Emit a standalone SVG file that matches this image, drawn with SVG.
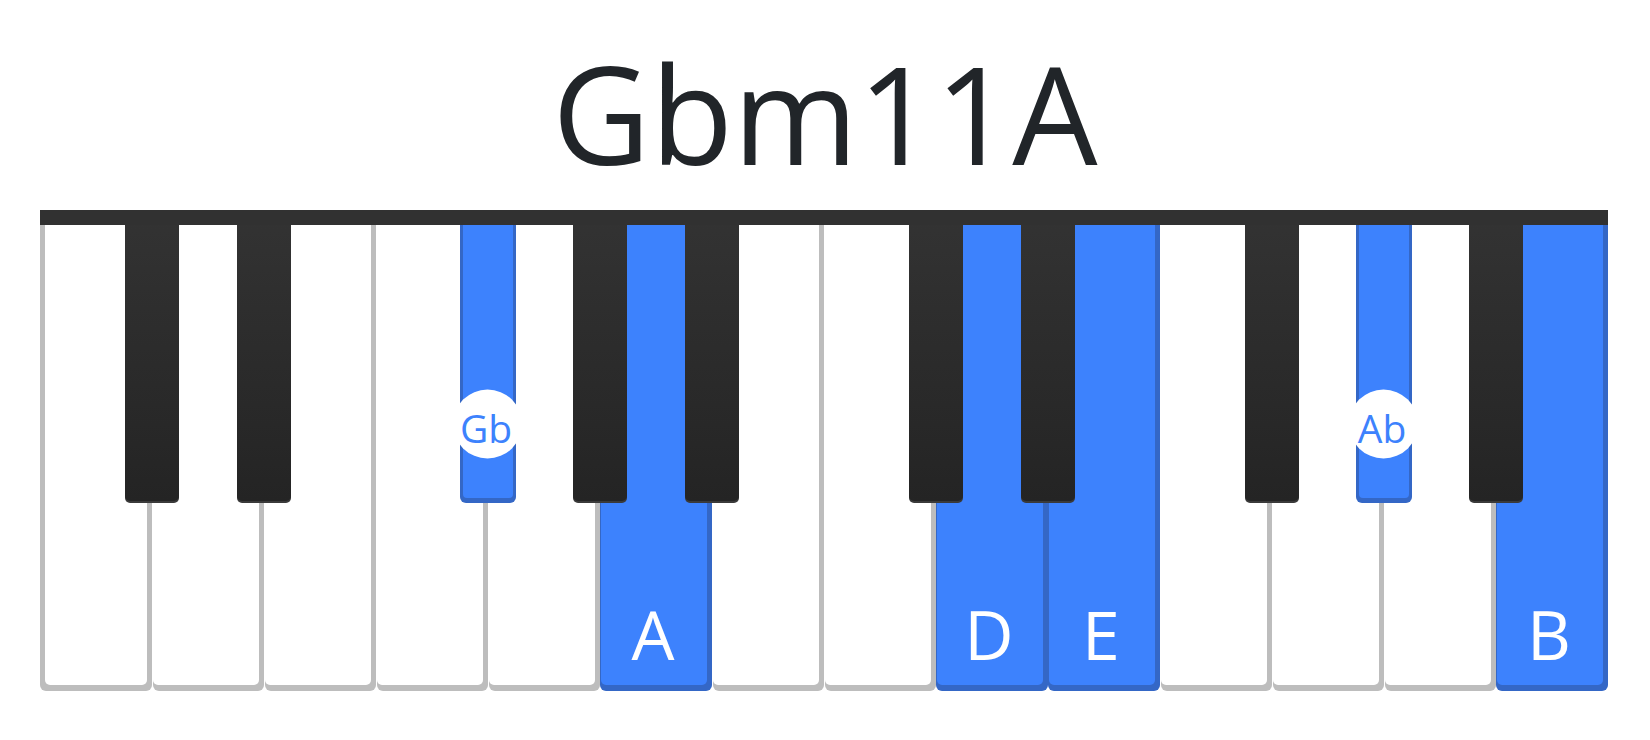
<svg xmlns="http://www.w3.org/2000/svg" width="1650" height="740" viewBox="0 0 1650 740">
<defs>
<linearGradient id="blk" x1="0" y1="0" x2="0" y2="1">
<stop offset="0" stop-color="#333333"/>
<stop offset="1" stop-color="#242424"/>
</linearGradient>
<style>
.wEdge{fill:#bdbdbd}
.wFace{fill:#ffffff}
.bEdge{fill:#3467c6}
.bFace{fill:#3d82fd}
.blk{fill:url(#blk)}
.blkEdge{fill:#3a3a3a}
.title{font-family:"Open Sans","Noto Sans","Liberation Sans",sans-serif;font-size:135px;fill:#212529;text-anchor:middle}
.lbl{font-family:"Open Sans","Noto Sans","Liberation Sans",sans-serif;font-size:68px;fill:#ffffff;text-anchor:middle}
.dot{fill:#ffffff}
.dlbl{font-family:"Open Sans","Noto Sans","Liberation Sans",sans-serif;font-size:39px;fill:#3d82fd;text-anchor:middle}
</style>
</defs>
<rect width="1650" height="740" fill="#ffffff"/>
<g id="title"><text class="title" x="825" y="165">Gbm11A</text></g>

<g id="white-keys">
<g id="key-C1"><rect class="wEdge" x="40" y="212" width="112" height="479" rx="6"/><rect class="wFace" x="45" y="212" width="102" height="473" rx="5"/></g>
<g id="key-D1"><rect class="wEdge" x="153" y="212" width="111" height="479" rx="6"/><rect class="wFace" x="153" y="212" width="106" height="473" rx="5"/></g>
<g id="key-E1"><rect class="wEdge" x="265" y="212" width="111" height="479" rx="6"/><rect class="wFace" x="265" y="212" width="106" height="473" rx="5"/></g>
<g id="key-F1"><rect class="wEdge" x="377" y="212" width="111" height="479" rx="6"/><rect class="wFace" x="377" y="212" width="106" height="473" rx="5"/></g>
<g id="key-G1"><rect class="wEdge" x="489" y="212" width="111" height="479" rx="6"/><rect class="wFace" x="489" y="212" width="106" height="473" rx="5"/></g>
<g id="key-A1"><rect class="bEdge" x="600" y="212" width="112" height="479" rx="6"/><rect class="bFace" x="601" y="212" width="106" height="473" rx="5"/><text class="lbl" x="653" y="660">A</text></g>
<g id="key-B1"><rect class="wEdge" x="713" y="212" width="111" height="479" rx="6"/><rect class="wFace" x="713" y="212" width="106" height="473" rx="5"/></g>
<g id="key-C2"><rect class="wEdge" x="825" y="212" width="111" height="479" rx="6"/><rect class="wFace" x="825" y="212" width="106" height="473" rx="5"/></g>
<g id="key-D2"><rect class="bEdge" x="936" y="212" width="112" height="479" rx="6"/><rect class="bFace" x="937" y="212" width="106" height="473" rx="5"/><text class="lbl" x="989" y="660">D</text></g>
<g id="key-E2"><rect class="bEdge" x="1048" y="212" width="112" height="479" rx="6"/><rect class="bFace" x="1049" y="212" width="106" height="473" rx="5"/><text class="lbl" x="1101" y="660">E</text></g>
<g id="key-F2"><rect class="wEdge" x="1161" y="212" width="111" height="479" rx="6"/><rect class="wFace" x="1161" y="212" width="106" height="473" rx="5"/></g>
<g id="key-G2"><rect class="wEdge" x="1273" y="212" width="111" height="479" rx="6"/><rect class="wFace" x="1273" y="212" width="106" height="473" rx="5"/></g>
<g id="key-A2"><rect class="wEdge" x="1385" y="212" width="111" height="479" rx="6"/><rect class="wFace" x="1385" y="212" width="106" height="473" rx="5"/></g>
<g id="key-B2"><rect class="bEdge" x="1496" y="212" width="112" height="479" rx="6"/><rect class="bFace" x="1497" y="212" width="106" height="473" rx="5"/><text class="lbl" x="1549" y="660">B</text></g>
</g>

<g id="black-keys">
<g id="key-Cs1"><rect class="blkEdge" x="125" y="212" width="54" height="291" rx="5"/><rect class="blk" x="125" y="212" width="54" height="289" rx="5"/></g>
<g id="key-Ds1"><rect class="blkEdge" x="237" y="212" width="54" height="291" rx="5"/><rect class="blk" x="237" y="212" width="54" height="289" rx="5"/></g>
<g id="key-Gb1"><rect class="bEdge" x="460" y="212" width="56" height="291" rx="6"/><rect class="bFace" x="463" y="212" width="50" height="286" rx="4"/></g>
<g id="key-Gs1"><rect class="blkEdge" x="573" y="212" width="54" height="291" rx="5"/><rect class="blk" x="573" y="212" width="54" height="289" rx="5"/></g>
<g id="key-As1"><rect class="blkEdge" x="685" y="212" width="54" height="291" rx="5"/><rect class="blk" x="685" y="212" width="54" height="289" rx="5"/></g>
<g id="key-Cs2"><rect class="blkEdge" x="909" y="212" width="54" height="291" rx="5"/><rect class="blk" x="909" y="212" width="54" height="289" rx="5"/></g>
<g id="key-Ds2"><rect class="blkEdge" x="1021" y="212" width="54" height="291" rx="5"/><rect class="blk" x="1021" y="212" width="54" height="289" rx="5"/></g>
<g id="key-Fs2"><rect class="blkEdge" x="1245" y="212" width="54" height="291" rx="5"/><rect class="blk" x="1245" y="212" width="54" height="289" rx="5"/></g>
<g id="key-Ab2"><rect class="bEdge" x="1356" y="212" width="56" height="291" rx="6"/><rect class="bFace" x="1359" y="212" width="50" height="286" rx="4"/></g>
<g id="key-As2"><rect class="blkEdge" x="1469" y="212" width="54" height="291" rx="5"/><rect class="blk" x="1469" y="212" width="54" height="289" rx="5"/></g>
</g>

<g id="top-bar"><rect x="40" y="210" width="1568" height="15" fill="#313131"/></g>

<g id="note-labels">
<g id="label-Gb"><circle class="dot" cx="487.5" cy="424" r="34.5"/><text class="dlbl" x="486" y="443">Gb</text></g>
<g id="label-Ab"><circle class="dot" cx="1383.5" cy="424" r="34.5"/><text class="dlbl" x="1382" y="443">Ab</text></g>
</g>
<g id="connectors"/>
</svg>
